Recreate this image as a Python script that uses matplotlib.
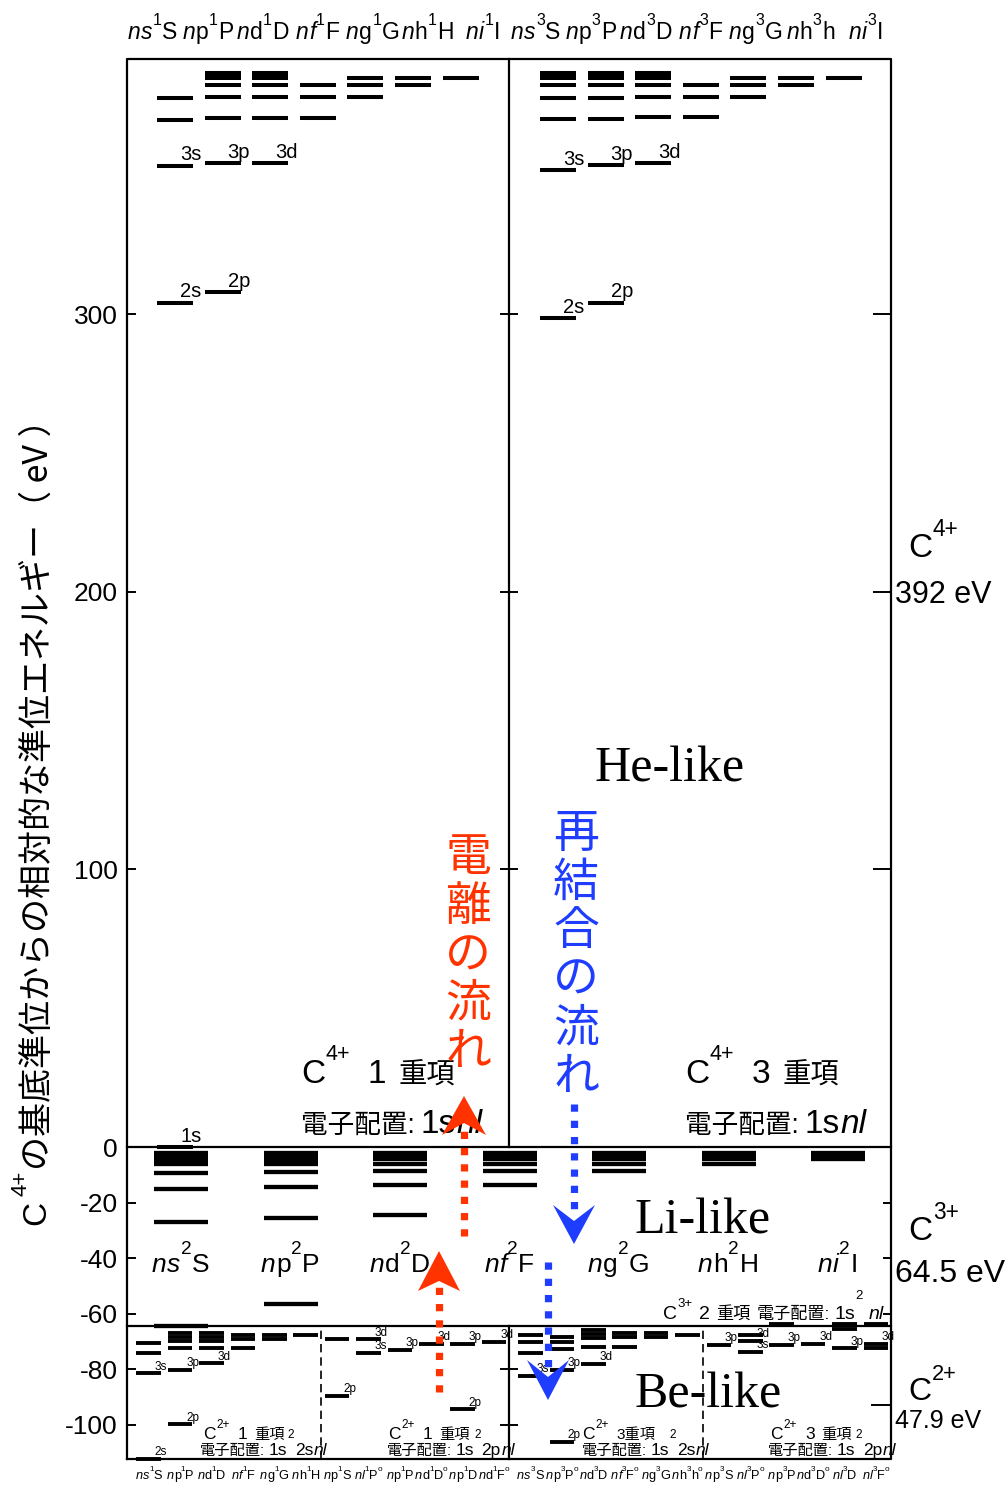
import matplotlib
matplotlib.use("Agg")
import matplotlib.pyplot as plt
from matplotlib import font_manager as fm
from matplotlib.lines import Line2D
from matplotlib.patches import Polygon

# ---------------------------------------------------------------- data (eV)
# Ionisation energies that bound the three regions
IP_C4 = 392.0
IP_C3 = 64.5
IP_C2 = 47.9

# He-like C4+ (1s nl) levels, columns S P D F G H I
HE_SINGLET = [
    [0.0, 304.2, 353.6, 370.0, 377.8],
    [307.9, 354.4, 370.9, 378.4, 382.6, 385.0, 386.2, 387.0],
    [354.4, 370.9, 378.4, 382.6, 385.0, 386.2, 387.0],
    [370.9, 378.4, 382.6],
    [378.4, 382.6, 385.0],
    [382.6, 385.0],
    [385.0],
]
HE_TRIPLET = [
    [298.6, 352.0, 370.4, 377.8, 382.6, 385.0, 386.2, 387.0],
    [304.2, 353.8, 370.4, 377.8, 382.6, 385.0, 386.2, 387.0],
    [354.4, 371.0, 378.4, 382.6, 385.0, 386.2, 387.0],
    [371.0, 378.4, 382.6],
    [378.4, 382.6, 385.0],
    [382.6, 385.0],
    [385.0],
]
HE_SINGLET_TAGS = [(0, 0, "1s"), (0, 1, "2s"), (0, 2, "3s"), (1, 0, "2p"), (1, 1, "3p"), (2, 0, "3d")]
HE_TRIPLET_TAGS = [(0, 0, "2s"), (0, 1, "3s"), (1, 0, "2p"), (1, 1, "3p"), (2, 0, "3d")]
HE_ORBITALS = ["s", "p", "d", "f", "g", "h", "i"]
HE_TERMS_SINGLET = ["S", "P", "D", "F", "G", "H", "I"]
HE_TERMS_TRIPLET = ["S", "P", "D", "F", "G", "h", "I"]

# Li-like C3+ (1s2 nl) levels, columns S P D F G H I
LI_LEVELS = [
    [-64.5, -26.9, -15.2, -9.4, -6.2, -4.6, -3.5, -2.8, -2.3],
    [-56.7, -25.4, -14.3, -8.9, -6.1, -4.5, -3.4, -2.7, -2.2],
    [-24.5, -13.6, -8.7, -6.0, -4.4, -3.4, -2.7, -2.2],
    [-13.6, -8.7, -6.0, -4.4, -3.4, -2.7, -2.2],
    [-8.7, -6.0, -4.4, -3.4, -2.7, -2.2],
    [-6.0, -4.4, -3.4, -2.7, -2.2],
    [-4.4, -3.4, -2.7, -2.2],
]
LI_ORBITALS = ["s", "p", "d", "f", "g", "h", "i"]
LI_TERMS = ["S", "P", "D", "F", "G", "H", "I"]

# Be-like C2+ levels: 1s2 2s nl (first six columns) and 1s2 2p nl (last six)
BE_SINGLET = [
    [-112.4, -81.5, -74.1, -70.7],
    [-99.9, -80.3, -72.5, -69.8, -68.3, -66.9],
    [-77.9, -72.5, -69.8, -68.3, -66.9],
    [-72.5, -69.3, -67.7],
    [-69.3, -67.7],
    [-67.7],
    [-89.7, -69.3],
    [-74.1, -69.3],
    [-73.1],
    [-71.0],
    [-94.5, -71.0],
    [-70.1],
]
BE_TRIPLET = [
    [-82.5, -74.1, -70.1, -67.7],
    [-106.2, -80.3, -72.8, -70.1, -68.3],
    [-78.0, -71.9, -68.8, -67.4, -66.0],
    [-71.9, -68.6, -67.0],
    [-68.6, -67.0],
    [-67.7],
    [-71.3],
    [-73.8, -69.8, -67.7],
    [-71.3, -63.8],
    [-71.0],
    [-72.5, -65.6, -63.8],
    [-72.5, -71.0, -63.8],
]
BE_SINGLET_TAGS = [(0, 0, "2s"), (0, 1, "3s"), (1, 0, "2p"), (1, 1, "3p"), (2, 0, "3d"),
                   (6, 0, "2p"), (7, 0, "3s"), (7, 1, "3d"), (8, 0, "3p"), (9, 0, "3d"),
                   (10, 0, "2p"), (10, 1, "3p"), (11, 0, "3d")]
BE_TRIPLET_TAGS = [(0, 0, "3s"), (1, 0, "2p"), (1, 1, "3p"), (2, 0, "3d"),
                   (6, 0, "3p"), (7, 0, "3s"), (7, 1, "3d"), (8, 0, "3p"), (9, 0, "3d"),
                   (10, 0, "3p"), (11, 1, "3d")]
BE_ORB_SINGLET = ["s", "p", "d", "f", "g", "h", "p", "l", "p", "d", "p", "d"]
BE_TERM_SINGLET = ["S", "P", "D", "F", "G", "H", "S", "P", "P", "D", "D", "F"]
BE_ODD_SINGLET = [0, 0, 0, 0, 0, 0, 0, 1, 0, 1, 0, 1]
BE_ORB_TRIPLET = ["s", "p", "d", "f", "g", "h", "p", "l", "p", "d", "l", "l"]
BE_TERM_TRIPLET = ["S", "P", "D", "F", "G", "h", "S", "P", "P", "D", "D", "F"]
BE_ODD_TRIPLET = [0, 1, 0, 1, 0, 1, 0, 1, 0, 1, 0, 1]

UPPER_TICKS = [300, 200, 100]
LOWER_TICKS = [0, -20, -40, -60, -80, -100]

# ---------------------------------------------------------------- fonts
_names = {f.name for f in fm.fontManager.ttflist}
SANS = "Liberation Sans" if "Liberation Sans" in _names else "DejaVu Sans"
NARROW = "Liberation Sans Narrow" if "Liberation Sans Narrow" in _names else SANS
SERIF = "Liberation Serif" if "Liberation Serif" in _names else "DejaVu Serif"
CJK = "Noto Sans CJK JP"
plt.rcParams["font.family"] = [SANS, CJK]

RED = "#FF3300"
BLUE = "#1F3DFF"

# ---------------------------------------------------------------- figure
W, H, DPI = 1007, 1491, 100
fig = plt.figure(figsize=(W / DPI, H / DPI), dpi=DPI)
fig.patch.set_facecolor("white")

X_LEFT, X_RIGHT, X_MID = 127, 891, 509
ax = fig.add_axes([X_LEFT / W, 1 - 1459 / H, (X_RIGHT - X_LEFT) / W, 1400 / H])
E_MIN = -(IP_C3 + IP_C2)
ax.set_xlim(X_LEFT, X_RIGHT)
ax.set_ylim(E_MIN, IP_C4)
ax.axis("off")
renderer = fig.canvas.get_renderer()


def F(x, y):
    """Pixel position (y measured from the top) to figure fraction."""
    return x / W, 1 - y / H


def runs(x, y, parts, size, ha="left", color="k", jscale=0.83, sscale=0.68,
         srise=0.55, hrise=0.95, family=None, z=6, kern=0.5):
    """Draw a row of text pieces (regular, italic, CJK, superscript) on one baseline."""
    fam = family or [SANS, CJK]
    ppt = DPI / 72
    items, cx = [], 0.0
    for txt, st in parts:
        if st == "g":
            cx += txt
            continue
        fs, rise, style = size, 0.0, "normal"
        if st == "j":
            fs = size * jscale
        elif st in ("s", "S"):
            fs = size * sscale
            rise = (srise if st == "s" else hrise) * size * ppt
        elif st == "i":
            style = "italic"
        t = fig.text(0, 0, txt, fontsize=fs, family=fam, fontstyle=style, color=color,
                     ha="left", va="baseline", zorder=z)
        w = t.get_window_extent(renderer=renderer).width
        items.append((t, cx, rise))
        cx += w + kern
    x0 = x - cx / 2 if ha == "center" else (x - cx if ha == "right" else x)
    for t, ox, rise in items:
        t.set_position(F(x0 + ox, y - rise))
    return cx


def term_parts(orb, mult, term, odd=False):
    parts = [("n", "i"), (orb, "i" if orb in "sfil" else "r"), (mult, "s"), (term, "r")]
    if odd:
        parts.append(("o", "s"))
    return parts


def draw_levels(levels, centers, width, lw=3.0):
    for c, col in zip(centers, levels):
        ax.hlines(col, c - width / 2, c + width / 2, colors="k", lw=lw,
                  capstyle="butt", zorder=3, clip_on=False)


def draw_tags(levels, centers, tags, size, dx, dy):
    for k, i, txt in tags:
        ax.annotate(txt, (centers[k] + dx, levels[k][i]), xytext=(0, dy),
                    textcoords="offset points", fontsize=size, ha="left",
                    va="baseline", zorder=4, family=SANS)


# ---------------------------------------------------------------- frame
FR = dict(color="k", lw=1.6, clip_on=False, zorder=2, solid_capstyle="projecting")
ax.plot([X_LEFT, X_RIGHT, X_RIGHT, X_LEFT, X_LEFT], [E_MIN, E_MIN, IP_C4, IP_C4, E_MIN], **FR)
ax.plot([X_LEFT, X_RIGHT], [0, 0], **FR)
ax.plot([X_LEFT, X_RIGHT], [-IP_C3, -IP_C3], **FR)
ax.plot([X_MID, X_MID], [0, IP_C4], **FR)
ax.plot([X_MID, X_MID], [E_MIN, -IP_C3], **FR)
for xd in (321, 703):
    ax.plot([xd, xd], [E_MIN, -IP_C3], color="k", lw=1.2, ls=(0, (5, 3)), zorder=2)

TK = dict(colors="k", lw=1.4, zorder=2, clip_on=False)
ax.hlines(UPPER_TICKS, X_LEFT, X_LEFT + 9, **TK)
ax.hlines(UPPER_TICKS, X_MID - 9, X_MID + 9, **TK)
ax.hlines(UPPER_TICKS, X_RIGHT - 18, X_RIGHT, **TK)
low = [t for t in LOWER_TICKS if t != 0]
ax.hlines(low, X_LEFT, X_LEFT + 9, **TK)
ax.hlines([t for t in low if t < -IP_C3], X_MID - 9, X_MID + 9, **TK)
ax.hlines([t for t in low if t > -IP_C3], X_RIGHT - 8, X_RIGHT, **TK)
for t in UPPER_TICKS + LOWER_TICKS:
    ax.text(X_LEFT - 9, t, f"{t}", ha="right", va="center_baseline", fontsize=19,
            family=SANS, clip_on=False)

# ---------------------------------------------------------------- He-like
HE_STEP, HE_W = 47.6, 36
he_s_x = [X_LEFT + 48 + HE_STEP * k for k in range(7)]
he_t_x = [X_MID + 1 + 48 + HE_STEP * k for k in range(7)]
draw_levels(HE_SINGLET, he_s_x, HE_W, lw=2.9)
draw_levels(HE_TRIPLET, he_t_x, HE_W, lw=2.9)
draw_tags(HE_SINGLET, he_s_x, HE_SINGLET_TAGS, 14.5, 5, 3.8)
draw_tags(HE_TRIPLET, he_t_x, HE_TRIPLET_TAGS, 14.5, 5, 3.8)
for k in range(7):
    runs(X_LEFT + 26 + 55 * k, 39, term_parts(HE_ORBITALS[k], "1", HE_TERMS_SINGLET[k]), 16.5,
         ha="center", srise=0.62, sscale=0.7)
    runs(X_MID + 27 + 55 * k, 39, term_parts(HE_ORBITALS[k], "3", HE_TERMS_TRIPLET[k]), 16.5,
         ha="center", srise=0.62, sscale=0.7)

# ---------------------------------------------------------------- Li-like
LI_STEP, LI_W = 109.5, 54
li_x = [X_LEFT + 54 + LI_STEP * k for k in range(7)]
draw_levels(LI_LEVELS, li_x, LI_W, lw=3.1)
for k in range(7):
    runs(li_x[k], 1272, term_parts(LI_ORBITALS[k], "2", LI_TERMS[k]), 19, ha="center",
         srise=0.7, sscale=0.72, family=[NARROW, CJK])

# ---------------------------------------------------------------- Be-like
BE_STEP, BE_W = 31.4, 24.5
be_s_x = [X_LEFT + 21.7 + BE_STEP * k for k in range(12)]
be_t_x = [X_MID + 21.5 + BE_STEP * k for k in range(12)]
draw_levels(BE_SINGLET, be_s_x, BE_W, lw=2.8)
draw_levels(BE_TRIPLET, be_t_x, BE_W, lw=2.8)
draw_tags(BE_SINGLET, be_s_x, BE_SINGLET_TAGS, 8.5, 6, 2.6)
draw_tags(BE_TRIPLET, be_t_x, BE_TRIPLET_TAGS, 8.5, 6, 2.6)
for k in range(12):
    runs(be_s_x[k], 1479, term_parts(BE_ORB_SINGLET[k], "1", BE_TERM_SINGLET[k], BE_ODD_SINGLET[k]),
         9.2, ha="center", srise=0.6, sscale=0.64, family=[NARROW, CJK], kern=0.0)
    runs(be_t_x[k], 1479, term_parts(BE_ORB_TRIPLET[k], "3", BE_TERM_TRIPLET[k], BE_ODD_TRIPLET[k]),
         9.2, ha="center", srise=0.6, sscale=0.64, family=[NARROW, CJK], kern=0.0)

# ---------------------------------------------------------------- headings
for txt, x, y in (("He-like", 595, 782), ("Li-like", 635, 1234), ("Be-like", 635, 1408)):
    fig.text(*F(x, y), txt, family=SERIF, fontsize=36, ha="left", va="baseline", zorder=6)

for x, mult in ((301, "1"), (685, "3")):
    runs(x, 1083, [("C", "r"), ("4+", "s"), (17, "g"), (mult, "r"), (12, "g"), ("重項", "j")],
         24, jscale=0.85, srise=0.68, sscale=0.65)
    runs(x, 1133, [("電子配置:", "j"), (5, "g"), ("1s", "r"), ("nl", "i")], 24, jscale=0.8)

runs(663, 1319, [("C", "r"), ("3+", "s"), (6, "g"), ("2", "r"), (6, "g"), ("重項", "j"),
                 (5, "g"), ("電子配置:", "j"), (4, "g"), ("1s", "r"), ("2", "S"), (6, "g"),
                 ("nl", "i")], 14, jscale=0.88, srise=0.6, hrise=1.05)

for x1, x2, mult, orb, spaced in ((203, 200, "1", "2s", True), (388, 387, "1", "2p", True),
                                  (582, 582, "3", "2s", False), (770, 768, "3", "2p", True)):
    head = [("C", "r"), ("2+", "s"), (8, "g")]
    head += [(mult, "r"), (6, "g"), ("重項", "j")] if spaced else [(mult + "重項", "j")]
    runs(x1, 1439, head, 12.5, jscale=0.88, srise=0.62)
    runs(x2, 1455, [("電子配置:", "j"), (3, "g"), ("1s", "r"), ("2", "S"), (orb, "r"), ("nl", "i")],
         12.5, jscale=0.88, hrise=1.0)

# ---------------------------------------------------------------- ion labels on the right
def ion_label(charge, ev, yc, yv, cs, vs, vfam):
    runs(908, yc, [("C", "r"), (charge, "s")], cs, srise=0.62, sscale=0.68)
    fig.text(*F(895, yv), ev, fontsize=vs, family=vfam, ha="left", va="baseline", zorder=6)


ion_label("4+", f"{IP_C4:g} eV", 557, 603, 24, 22, SANS)
ion_label("3+", f"{IP_C3:g} eV", 1240, 1282, 24, 27 if NARROW != SANS else 23, NARROW)
ion_label("2+", f"{IP_C2:g} eV", 1400, 1428, 23, 18, SANS)
fig.add_artist(Line2D([872 / W, 891 / W], [1 - 1405 / H] * 2, color="k", lw=1.4,
                      transform=fig.transFigure, zorder=3))

# ---------------------------------------------------------------- vertical captions
for i, ch in enumerate("電離の流れ"):
    fig.text(*F(468, 858 + 48.5 * i), ch, color=RED, fontsize=33, family=CJK,
             ha="center", va="center", zorder=6)
for i, ch in enumerate("再結合の流れ"):
    fig.text(*F(576, 834 + 48.6 * i), ch, color=BLUE, fontsize=33, family=CJK,
             ha="center", va="center", zorder=6)

# ---------------------------------------------------------------- flow arrows
def flow_arrow(x, y_tail, y_tip, head_len, half_w, notch, color):
    sgn = 1 if y_tip > y_tail else -1
    y_back = y_tip - sgn * head_len
    fig.add_artist(Line2D([x / W, x / W], [1 - y_tail / H, 1 - (y_back + sgn * notch * 0.4) / H],
                          color=color, lw=5.2, dashes=(1.0, 1.25), solid_capstyle="butt",
                          dash_capstyle="butt", transform=fig.transFigure, zorder=7))
    pts = [F(x, y_tip), F(x - half_w, y_back), F(x, y_back + sgn * notch), F(x + half_w, y_back)]
    fig.add_artist(Polygon(pts, closed=True, color=color, lw=0, transform=fig.transFigure, zorder=8))


flow_arrow(464, 1236, 1096, 39, 22, 12, RED)
flow_arrow(439, 1392, 1251, 40, 21, 10, RED)
flow_arrow(574, 1104, 1244, 39, 21, 16, BLUE)
flow_arrow(548, 1262, 1400, 40, 21, 17, BLUE)

# ---------------------------------------------------------------- axis title
fig.text(*F(37, 1225), "C", rotation=90, fontsize=24, family=SANS, ha="center", va="bottom")
fig.text(*F(21, 1196), "4+", rotation=90, fontsize=16, family=SANS, ha="center", va="bottom")
fig.text(*F(38, 1170), "の基底準位からの相対的な準位エネルギー（ eV ）", rotation=90,
         fontsize=24.5, family=[CJK, SANS], ha="center", va="bottom")

fig.savefig("out.png", dpi=DPI, facecolor="white")
